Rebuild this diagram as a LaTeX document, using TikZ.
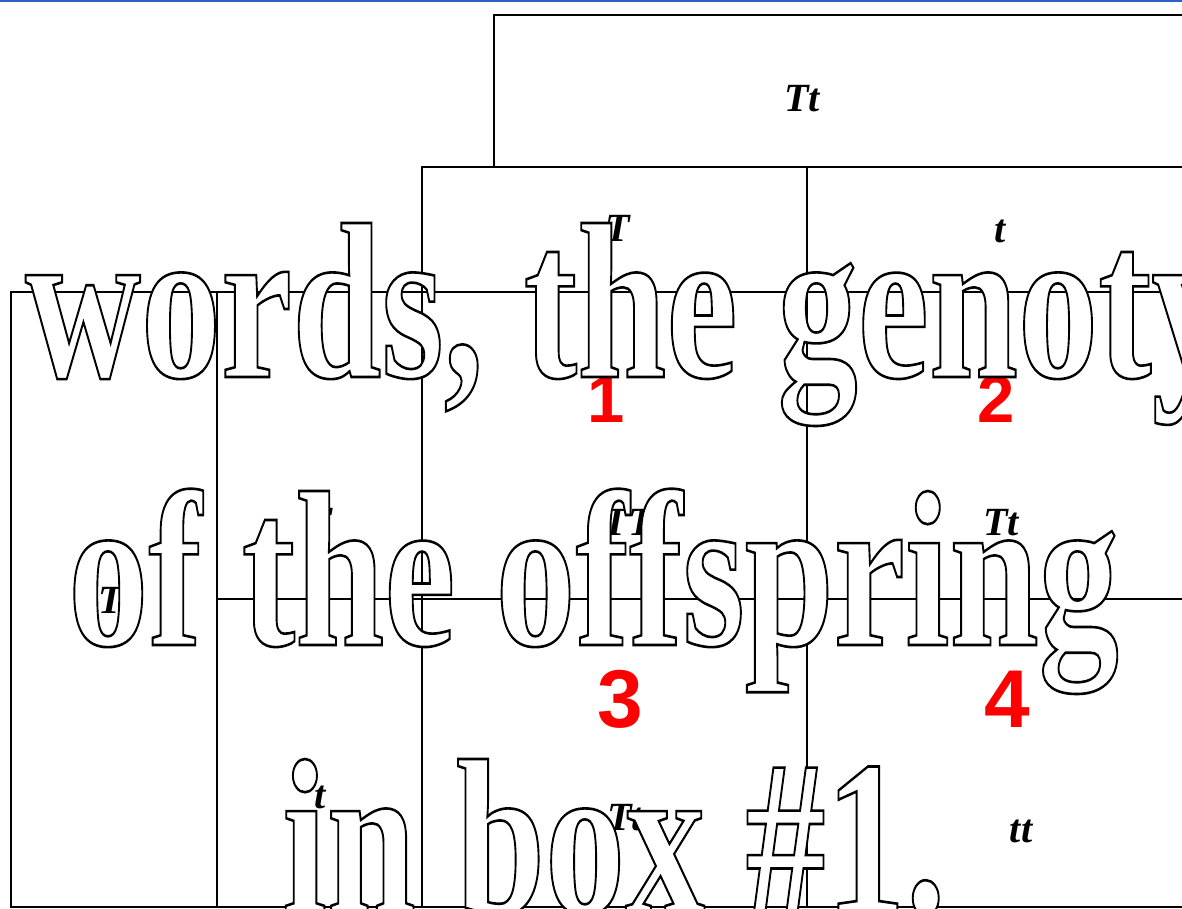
\documentclass[tikz,border=0pt]{standalone}
\usepackage{fontspec}
\usetikzlibrary{positioning,calc}
\newfontfamily\wordfont{Liberation Serif}
\newfontfamily\genefont{Liberation Serif}
\newfontfamily\numfont{Liberation Sans}
\definecolor{SlideBlue}{RGB}{46,94,200}
\definecolor{BoxRed}{RGB}{255,0,0}
\tikzset{
  sq/.style      = {draw, line width=2.7pt, inner sep=0pt, outer sep=0pt,
                    anchor=north west},
  gene/.style    = {font=\genefont\bfseries\itshape\fontsize{40}{40}\selectfont,
                    inner sep=0pt, anchor=base},
  num/.style     = {font=\numfont\bfseries\fontsize{67}{67}\selectfont,
                    text=BoxRed, inner sep=0pt, anchor=base},
  bignum/.style  = {num, font=\numfont\bfseries\fontsize{82}{82}\selectfont},
  overword/.style= {anchor=base west, inner sep=0pt,
                    font=\wordfont\bfseries\fontsize{222}{268}\selectfont}
}
\newcommand{\hollow}[1]{\scalebox{0.722}[1]{%
  \special{pdf:literal direct 2 Tr 2.6 w 1 1 1 rg 0 0 0 RG}#1%
  \special{pdf:literal direct 0 Tr 0 0 0 rg 0 0 0 RG}}}

\begin{document}
\begin{tikzpicture}[x=1pt, y=-1pt]
\path[use as bounding box, clip] (0,0) rectangle (1182,909);

% parents and gametes
\node[sq, minimum width=720pt, minimum height=152pt] (top) at (494,15) {};
\node[sq, minimum width=385pt, minimum height=125pt] (gT) at (422,167) {};
\node[sq, minimum width=400pt, minimum height=125pt] (gt) at (807,167) {};
\node[sq, minimum width=206pt, minimum height=615pt] (left) at (11,292) {};
\node[sq, minimum width=205pt, minimum height=307pt] (lT) at (217,292) {};
\node[sq, minimum width=205pt, minimum height=308pt] (lt) at (217,599) {};

% offspring boxes
\node[sq, minimum width=385pt, minimum height=307pt] (box1) at (422,292) {};
\node[sq, minimum width=400pt, minimum height=307pt] (box2) at (807,292) {};
\node[sq, minimum width=385pt, minimum height=308pt] (box3) at (422,599) {};
\node[sq, minimum width=400pt, minimum height=308pt] (box4) at (807,599) {};

\node[gene] (topg) at (802,112) {Tt};
\node[gene] (gTg) at (618,241) {T};
\node[gene] (gtg) at (1000,243) {t};
\node[gene] (leftg) at (116,613) {Tt};
\node[gene] (lTg) at (320,534) {T};
\node[gene] (ltg) at (320,808) {t};

\node[gene] (g1) at (628,535) {TT};
\node[gene] (g2) at (1001,535) {Tt};
\node[gene] (g3) at (625,830) {Tt};
\node[gene] (g4) at (1021,842) {tt};

\node[num] (n1) at (606,422) {1};
\node[num] (n2) at (996,422) {2};
\node[bignum] (n3) at (620,727) {3};
\node[bignum] (n4) at (1007,727) {4};

% big outlined words on top
\node[overword] (w1) at (25,377) {\hollow{words, the genotype}};
\node[overword] (w2) at (68,645) {\hollow{of the offspring}};
\node[overword] (w3) at (282,913) {\hollow{in box \#1.}};

\draw[SlideBlue, line width=2.5pt] (0,1) -- (1182,1);
\end{tikzpicture}
\end{document}
